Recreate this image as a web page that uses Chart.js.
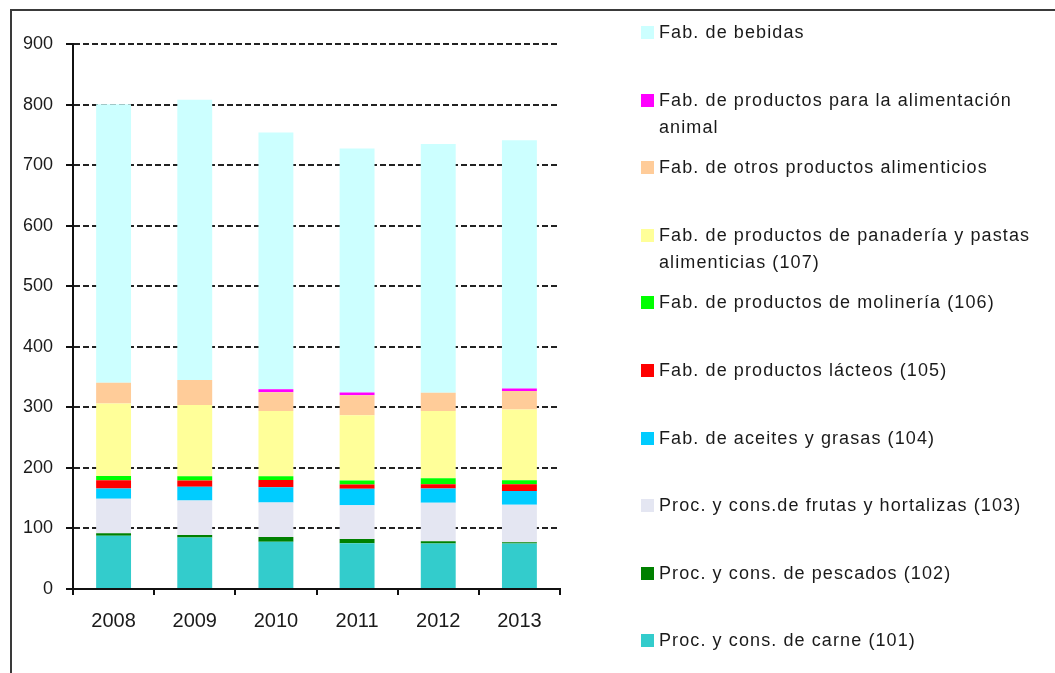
<!DOCTYPE html>
<html>
<head>
<meta charset="utf-8">
<script src="https://cdn.jsdelivr.net/npm/chart.js@4.4.0/dist/chart.umd.min.js"></script>
<style>
  body { margin: 0; background: #fff; font-family: "Liberation Sans", Arial, sans-serif; }
  #wrap { position: relative; width: 1055px; height: 673px; overflow: hidden; }
  #frame { position: absolute; left: 10px; top: 9px; width: 1100px; height: 700px;
           border-left: 2px solid #3a3a3a; border-top: 2px solid #3a3a3a; }
  #chart { position: absolute; left: 0; top: 0; }
  #legend { position: absolute; left: 0; top: 0; }
  .item { position: absolute; left: 641px; width: 410px; }
  .sw { position: absolute; left: 0; top: 0; width: 13px; height: 13px; }
  .txt { position: absolute; left: 18px; top: -7px; width: 392px; font-size: 18px;
         line-height: 27px; letter-spacing: 1.1px; color: #1a1a1a; }
</style>
</head>
<body>
<div id="wrap">
  <div id="frame"></div>
  <canvas id="chart" width="1055" height="673"></canvas>
  <div id="legend"></div>
</div>
<script>
// Data
const years = ["2008", "2009", "2010", "2011", "2012", "2013"];

const carne      = [88, 85, 78, 75.5, 75, 75];
const pescados   = [4, 4, 8, 7, 4, 2];
const frutas     = [57, 57, 57, 56, 63.5, 62];
const aceites    = [17, 23, 25, 27, 23.5, 23];
const lacteos    = [13.5, 10, 12, 7, 7, 11];
const molineria  = [7, 7, 6, 6.5, 10, 6.5];
const panaderia  = [120, 118, 108, 108, 111, 117];
const otros      = [34, 41, 31, 33, 30, 30.5];
const animal     = [0, 0, 5, 4.5, 0, 4];
const bebidas    = [460, 463, 424, 403, 411, 410];

const seriesNames = [
    "Proc. y cons. de carne (101)",
    "Proc. y cons. de pescados (102)",
    "Proc. y cons.de frutas y hortalizas (103)",
    "Fab. de aceites y grasas (104)",
    "Fab. de productos lácteos (105)",
    "Fab. de productos de molinería (106)",
    "Fab. de productos de panadería y pastas alimenticias (107)",
    "Fab. de otros productos alimenticios",
    "Fab. de productos para la alimentación animal",
    "Fab. de bebidas",
];
const seriesValues = [carne, pescados, frutas, aceites, lacteos, molineria, panaderia, otros, animal, bebidas];
const seriesColors = ["#33CCCC", "#008000", "#E4E6F2", "#00CCFF", "#FF0000",
                      "#00FF00", "#FFFF99", "#FFCC99", "#FF00FF", "#CCFFFF"];

const yTicksMax = 900;
const yStep = 100;

// Chart
const datasets = seriesNames.map((name, i) => ({
    label: name,
    data: seriesValues[i],
    backgroundColor: seriesColors[i],
    borderWidth: 0,
    barPercentage: 0.43,
    categoryPercentage: 1,
}));

new Chart(document.getElementById("chart"), {
    type: "bar",
    data: { labels: years, datasets: datasets },
    options: {
        responsive: false,
        animation: false,
        layout: { padding: { left: 0, top: 44, right: 495, bottom: 0 } },
        plugins: { legend: { display: false }, tooltip: { enabled: false } },
        scales: {
            x: {
                stacked: true,
                grid: { display: true, drawOnChartArea: false, drawTicks: true, tickLength: 6, color: "#111", lineWidth: 2 },
                border: { display: true, color: "#111", width: 2 },
                ticks: { color: "#1a1a1a", padding: 14, font: { family: "Liberation Sans", size: 20 } },
                afterFit: (scale) => { scale.height = 84; },
            },
            y: {
                stacked: true,
                min: 0,
                max: yTicksMax,
                grid: { color: "#222", lineWidth: 2, tickLength: 7, tickColor: "#111", tickWidth: 2 },
                border: { display: true, color: "#111", width: 2, dash: [6, 3] },
                ticks: { stepSize: yStep, color: "#1a1a1a", padding: 13, font: { family: "Liberation Sans", size: 18 } },
                afterFit: (scale) => { scale.width = 73; },
            },
        },
    },
});

// Legend (top item = last series)
const legend = document.getElementById("legend");
const order = seriesNames.map((_, i) => i).reverse();
order.forEach((idx, row) => {
    const item = document.createElement("div");
    item.className = "item";
    item.style.top = (26 + row * 67.6) + "px";
    item.innerHTML = `<div class="sw" style="background:${seriesColors[idx]}"></div><div class="txt">${seriesNames[idx]}</div>`;
    legend.appendChild(item);
});
</script>
</body>
</html>
